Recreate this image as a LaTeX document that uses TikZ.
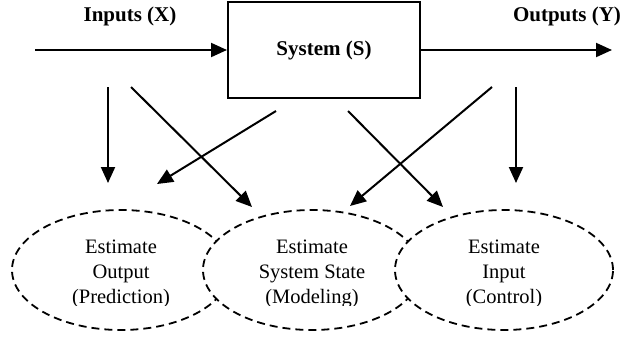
\documentclass[tikz,border=0pt]{standalone}
\usepackage{fontspec}
\setmainfont{Liberation Serif}
\usetikzlibrary{arrows.meta,shapes.geometric}
\tikzset{
  conn/.style={line width=2pt,-{Triangle[length=16pt,width=14pt]}},
  sysbox/.style={draw,line width=2pt,minimum width=192pt,minimum height=96pt,inner sep=0pt,font=\fontsize{21}{25}\selectfont\bfseries},
  lbl/.style={font=\fontsize{21}{25}\selectfont\bfseries,inner sep=0pt},
  est/.style={ellipse,draw,fill=white,line width=1.8pt,dash pattern=on 8pt off 5pt,minimum width=218pt,minimum height=120pt,inner sep=0pt},
  esttext/.style={align=center,inner sep=0pt,font=\fontsize{20.5}{25}\selectfont}
}
\begin{document}
\begin{tikzpicture}[x=1pt,y=-1pt]
\useasboundingbox (0,0) rectangle (622,338);
\node[sysbox] (sys) at (324,50) {System (S)};
\node[lbl] (inl) at (130,16) {Inputs (X)};
\node[lbl] (outl) at (567,16) {Outputs (Y)};
\coordinate (xin) at (35,50);
\coordinate (yout) at (612,50);
\draw[conn] (xin) -- (sys.west);
\draw[conn] (sys.east) -- (yout);
% arrow end points
\coordinate (a1s) at (108,87);  \coordinate (a1e) at (108,183);
\coordinate (a2s) at (131,87);  \coordinate (a2e) at (252,207);
\coordinate (a3s) at (276,111); \coordinate (a3e) at (157,184);
\coordinate (a4s) at (348,111); \coordinate (a4e) at (443,207);
\coordinate (a5s) at (492,87);  \coordinate (a5e) at (350,206);
\coordinate (a6s) at (516,87);  \coordinate (a6e) at (516,183);
\draw[conn] (a1s) -- (a1e);
\draw[conn] (a2s) -- (a2e);
\draw[conn] (a3s) -- (a3e);
\draw[conn] (a4s) -- (a4e);
\draw[conn] (a5s) -- (a5e);
\draw[conn] (a6s) -- (a6e);
\node[est] (eo) at (121,270) {};
\node[est] (es) at (312,270) {};
\node[est] (ei) at (504,270) {};
\begin{scope}
\clip (0,200) rectangle (622,305);
\node[esttext] (eot) at (121,274) {Estimate\\Output\\(Prediction)};
\node[esttext] (est) at (312,274) {Estimate\\System State\\(Modeling)};
\node[esttext] (eit) at (504,274) {Estimate\\Input\\(Control)};
\end{scope}
\end{tikzpicture}
\end{document}
